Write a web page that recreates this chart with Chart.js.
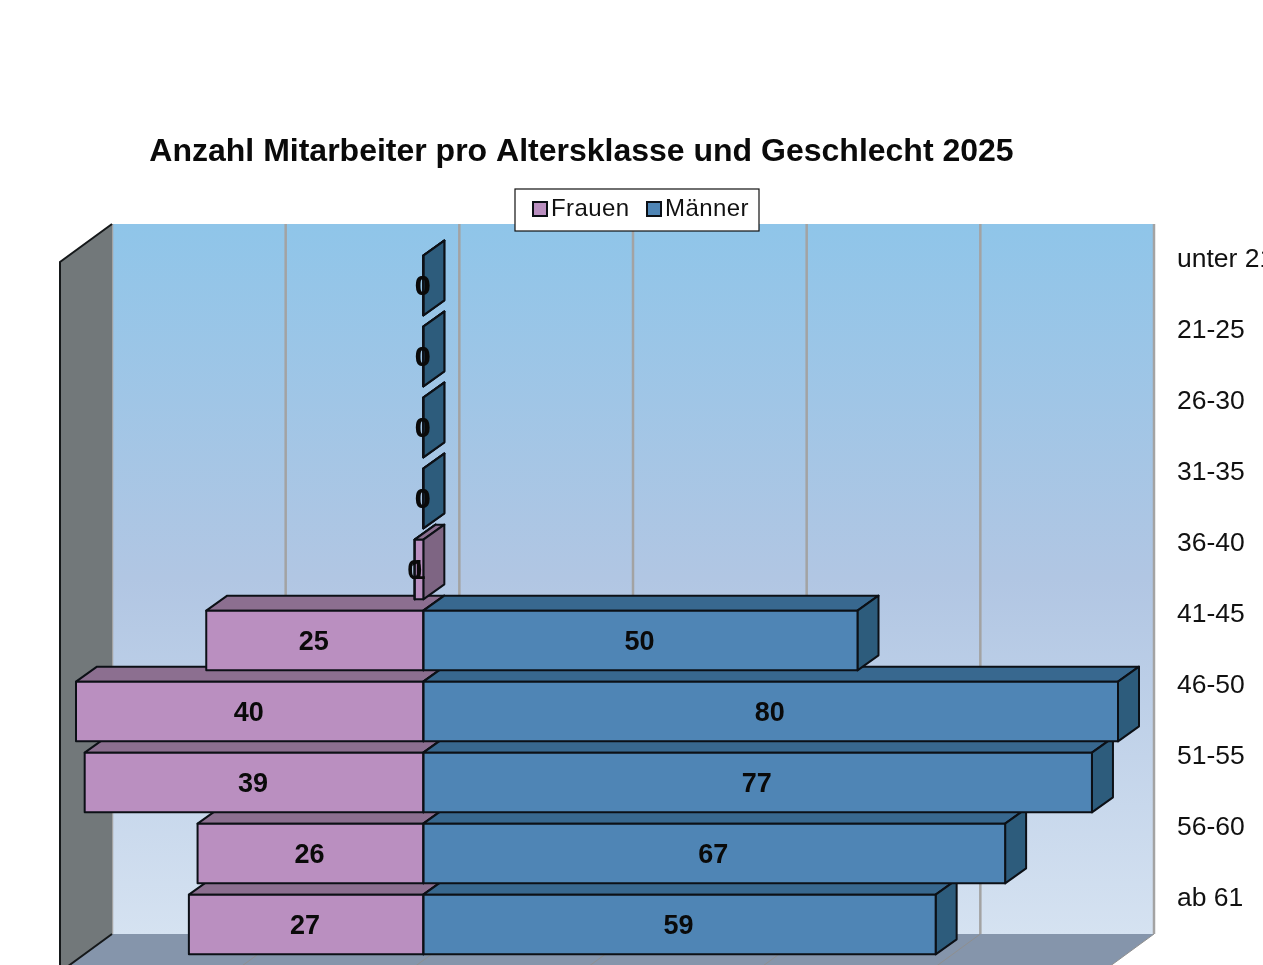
<!DOCTYPE html>
<html>
<head>
<meta charset="utf-8">
<title>Anzahl Mitarbeiter</title>
<style>
html, body { margin: 0; padding: 0; background: #fff; overflow: hidden; width: 1263px; height: 965px; }
canvas { display: block; filter: blur(0.5px); }
</style>
<script src="https://cdn.jsdelivr.net/npm/chart.js@4/dist/chart.umd.min.js"></script>
</head>
<body>
<canvas id="chart1" width="1340" height="1000"></canvas>
<script>
var categories = ['unter 21', '21-25', '26-30', '31-35', '36-40', '41-45', '46-50', '51-55', '56-60', 'ab 61'];
var frauen = [0, 0, 0, 0, 1, 25, 40, 39, 26, 27];
var maenner = [0, 0, 0, 0, 0, 50, 80, 77, 67, 59];

var titleText = 'Anzahl Mitarbeiter pro Altersklasse und Geschlecht 2025';
var fontName = '"Liberation Sans", Arial, sans-serif';

// front, top and side colour of the bars
var colFrauen = ['#ba8fc0', '#8c6f90', '#7e6583'];
var colMaenner = ['#4f85b5', '#38688f', '#2d5c7c'];
var lineColor = '#0c1016';

var barDx = 21, barDy = 15;     // depth of a bar
var wallBack = 36, wallDy = 26; // bar plane -> back wall
var wallDx = 52, floorDy = 38;  // back wall -> front of the box

function face(ctx, pts, fill, stroke, width) {
    ctx.beginPath();
    ctx.moveTo(pts[0][0], pts[0][1]);
    for (var i = 1; i < pts.length; i++) ctx.lineTo(pts[i][0], pts[i][1]);
    ctx.closePath();
    ctx.fillStyle = fill;
    ctx.fill();
    if (stroke) {
        ctx.strokeStyle = stroke;
        ctx.lineWidth = width;
        ctx.lineJoin = 'round';
        ctx.stroke();
    }
}

// walls, floor, gridlines and the legend box lie under everything
var wallsPlugin = {
    id: 'walls',
    afterLayout: function(chart) {
        chart.titleBlock.left = 149;
        chart.titleBlock.right = 1014;
    },
    beforeDraw: function(chart) {
        var ctx = chart.ctx;
        var xs = chart.scales.x, area = chart.chartArea;
        var left = area.left + wallBack, right = area.right + wallBack;
        var top = area.top - wallDy, bottom = area.bottom - wallDy;
        ctx.save();
        var g = ctx.createLinearGradient(0, top, 0, bottom);
        g.addColorStop(0, '#8fc5e9');
        g.addColorStop(0.5, '#b1c6e3');
        g.addColorStop(1, '#d5e2f1');
        ctx.fillStyle = g;
        ctx.fillRect(left, top, right - left, bottom - top);

        face(ctx, [[left, bottom], [right, bottom], [right - wallDx, bottom + floorDy], [left - wallDx, bottom + floorDy]], '#8595ab');
        xs.ticks.forEach(function(t, i) {
            var px = xs.getPixelForTick(i) + wallBack;
            ctx.strokeStyle = '#8f8f8f';
            ctx.lineWidth = 1;
            ctx.beginPath();
            ctx.moveTo(px, bottom);
            ctx.lineTo(px - wallDx, bottom + floorDy);
            ctx.stroke();
            ctx.strokeStyle = '#a3a3a3';
            ctx.lineWidth = 2.5;
            ctx.beginPath();
            ctx.moveTo(px, top);
            ctx.lineTo(px, bottom);
            ctx.stroke();
        });
        face(ctx, [[left, top], [left, bottom], [left - wallDx, bottom + floorDy], [left - wallDx, top + floorDy]], '#72787a');
        ctx.strokeStyle = '#15181a';
        ctx.lineWidth = 2;
        ctx.beginPath();
        ctx.moveTo(left, top);
        ctx.lineTo(left - wallDx, top + floorDy);
        ctx.lineTo(left - wallDx, bottom + floorDy);
        ctx.lineTo(left, bottom);
        ctx.stroke();

        // legend
        ctx.fillStyle = '#fff';
        ctx.strokeStyle = '#111';
        ctx.lineWidth = 1.2;
        ctx.fillRect(515, 189, 244, 42);
        ctx.strokeRect(515, 189, 244, 42);
        ctx.font = '24px ' + fontName;
        ctx.letterSpacing = '0.4px';
        ctx.textBaseline = 'middle';
        ctx.textAlign = 'left';
        var keyX = [533, 647], textX = [551, 665];
        chart.data.datasets.forEach(function(ds, i) {
            ctx.fillStyle = ds.backgroundColor;
            ctx.strokeStyle = lineColor;
            ctx.lineWidth = 2;
            ctx.fillRect(keyX[i], 202, 14, 14);
            ctx.strokeRect(keyX[i], 202, 14, 14);
            ctx.fillStyle = '#111';
            ctx.fillText(ds.label, textX[i], 209);
        });
        ctx.restore();
    },
    // top and side faces, lowest row first so that upper rows cover them
    beforeDatasetsDraw: function(chart) {
        var ctx = chart.ctx;
        var metaF = chart.getDatasetMeta(0).data, metaM = chart.getDatasetMeta(1).data;
        function drawBar(el, cols) {
            var x0 = Math.min(el.x, el.base), x1 = Math.max(el.x, el.base);
            var y0 = el.y - el.height / 2, y1 = el.y + el.height / 2;
            face(ctx, [[x0, y0], [x0 + barDx, y0 - barDy], [x1 + barDx, y0 - barDy], [x1, y0]], cols[1], lineColor, 2);
            face(ctx, [[x1, y0], [x1 + barDx, y0 - barDy], [x1 + barDx, y1 - barDy], [x1, y1]], cols[2], lineColor, 2);
        }
        ctx.save();
        for (var i = categories.length - 1; i >= 0; i--) {
            if (maenner[i] == 0 && frauen[i] > 0) {
                drawBar(metaM[i], colMaenner);
                drawBar(metaF[i], colFrauen);
            } else {
                drawBar(metaF[i], colFrauen);
                drawBar(metaM[i], colMaenner);
            }
        }
        ctx.restore();
    },
    afterDatasetsDraw: function(chart) {
        var ctx = chart.ctx;
        var metaF = chart.getDatasetMeta(0).data, metaM = chart.getDatasetMeta(1).data;
        function outline(el) {
            ctx.strokeRect(Math.min(el.x, el.base), el.y - el.height / 2, Math.abs(el.x - el.base), el.height);
        }
        ctx.save();
        ctx.strokeStyle = lineColor;
        ctx.lineWidth = 2;
        ctx.lineJoin = 'round';
        ctx.font = 'bold 27px ' + fontName;
        ctx.fillStyle = '#0a0a0a';
        ctx.textAlign = 'center';
        ctx.textBaseline = 'middle';
        for (var i = 0; i < categories.length; i++) {
            var f = metaF[i], m = metaM[i];
            outline(f);
            outline(m);
            ctx.fillText(String(frauen[i]), (f.x + f.base) / 2 - 1, f.y + 2);
            // a zero label of the men sits at the outer end of the women's bar
            var mx = maenner[i] == 0 ? f.x : (m.x + m.base) / 2 - 1;
            ctx.fillText(String(maenner[i]), mx, m.y + 2);
        }
        ctx.restore();
    }
};

function makeChart() {
    var ctx = document.getElementById('chart1').getContext('2d');
    return new Chart(ctx, {
        type: 'bar',
        data: {
            labels: categories,
            datasets: [{
                label: 'Frauen',
                data: frauen.map(function(v) { return -v; }),
                backgroundColor: colFrauen[0],
                borderWidth: 0
            }, {
                label: 'Männer',
                data: maenner,
                backgroundColor: colMaenner[0],
                borderWidth: 0
            }]
        },
        options: {
            indexAxis: 'y',
            responsive: false,
            animation: false,
            barPercentage: 0.84,
            categoryPercentage: 1,
            layout: { padding: { left: 76, right: 0, top: 0, bottom: 40 } },
            plugins: {
                legend: { display: false },
                tooltip: { enabled: false },
                title: {
                    display: true,
                    text: titleText,
                    color: '#0a0a0a',
                    font: { family: fontName, size: 32, weight: 'bold' },
                    padding: { top: 133, bottom: 78.6 }
                }
            },
            scales: {
                x: {
                    display: false,
                    stacked: true,
                    min: -40,
                    max: 80,
                    ticks: { stepSize: 20 }
                },
                y: {
                    position: 'right',
                    stacked: true,
                    grid: { display: false, drawTicks: true, tickLength: 59 },
                    border: { display: false },
                    afterFit: function(scale) { scale.width = 222; },
                    ticks: {
                        autoSkip: false,
                        padding: 0,
                        labelOffset: -26,
                        color: '#111',
                        font: { family: fontName, size: 26.5 }
                    }
                }
            }
        },
        plugins: [wallsPlugin]
    });
}

window.onload = function() {
    makeChart();
};
</script>
</body>
</html>
